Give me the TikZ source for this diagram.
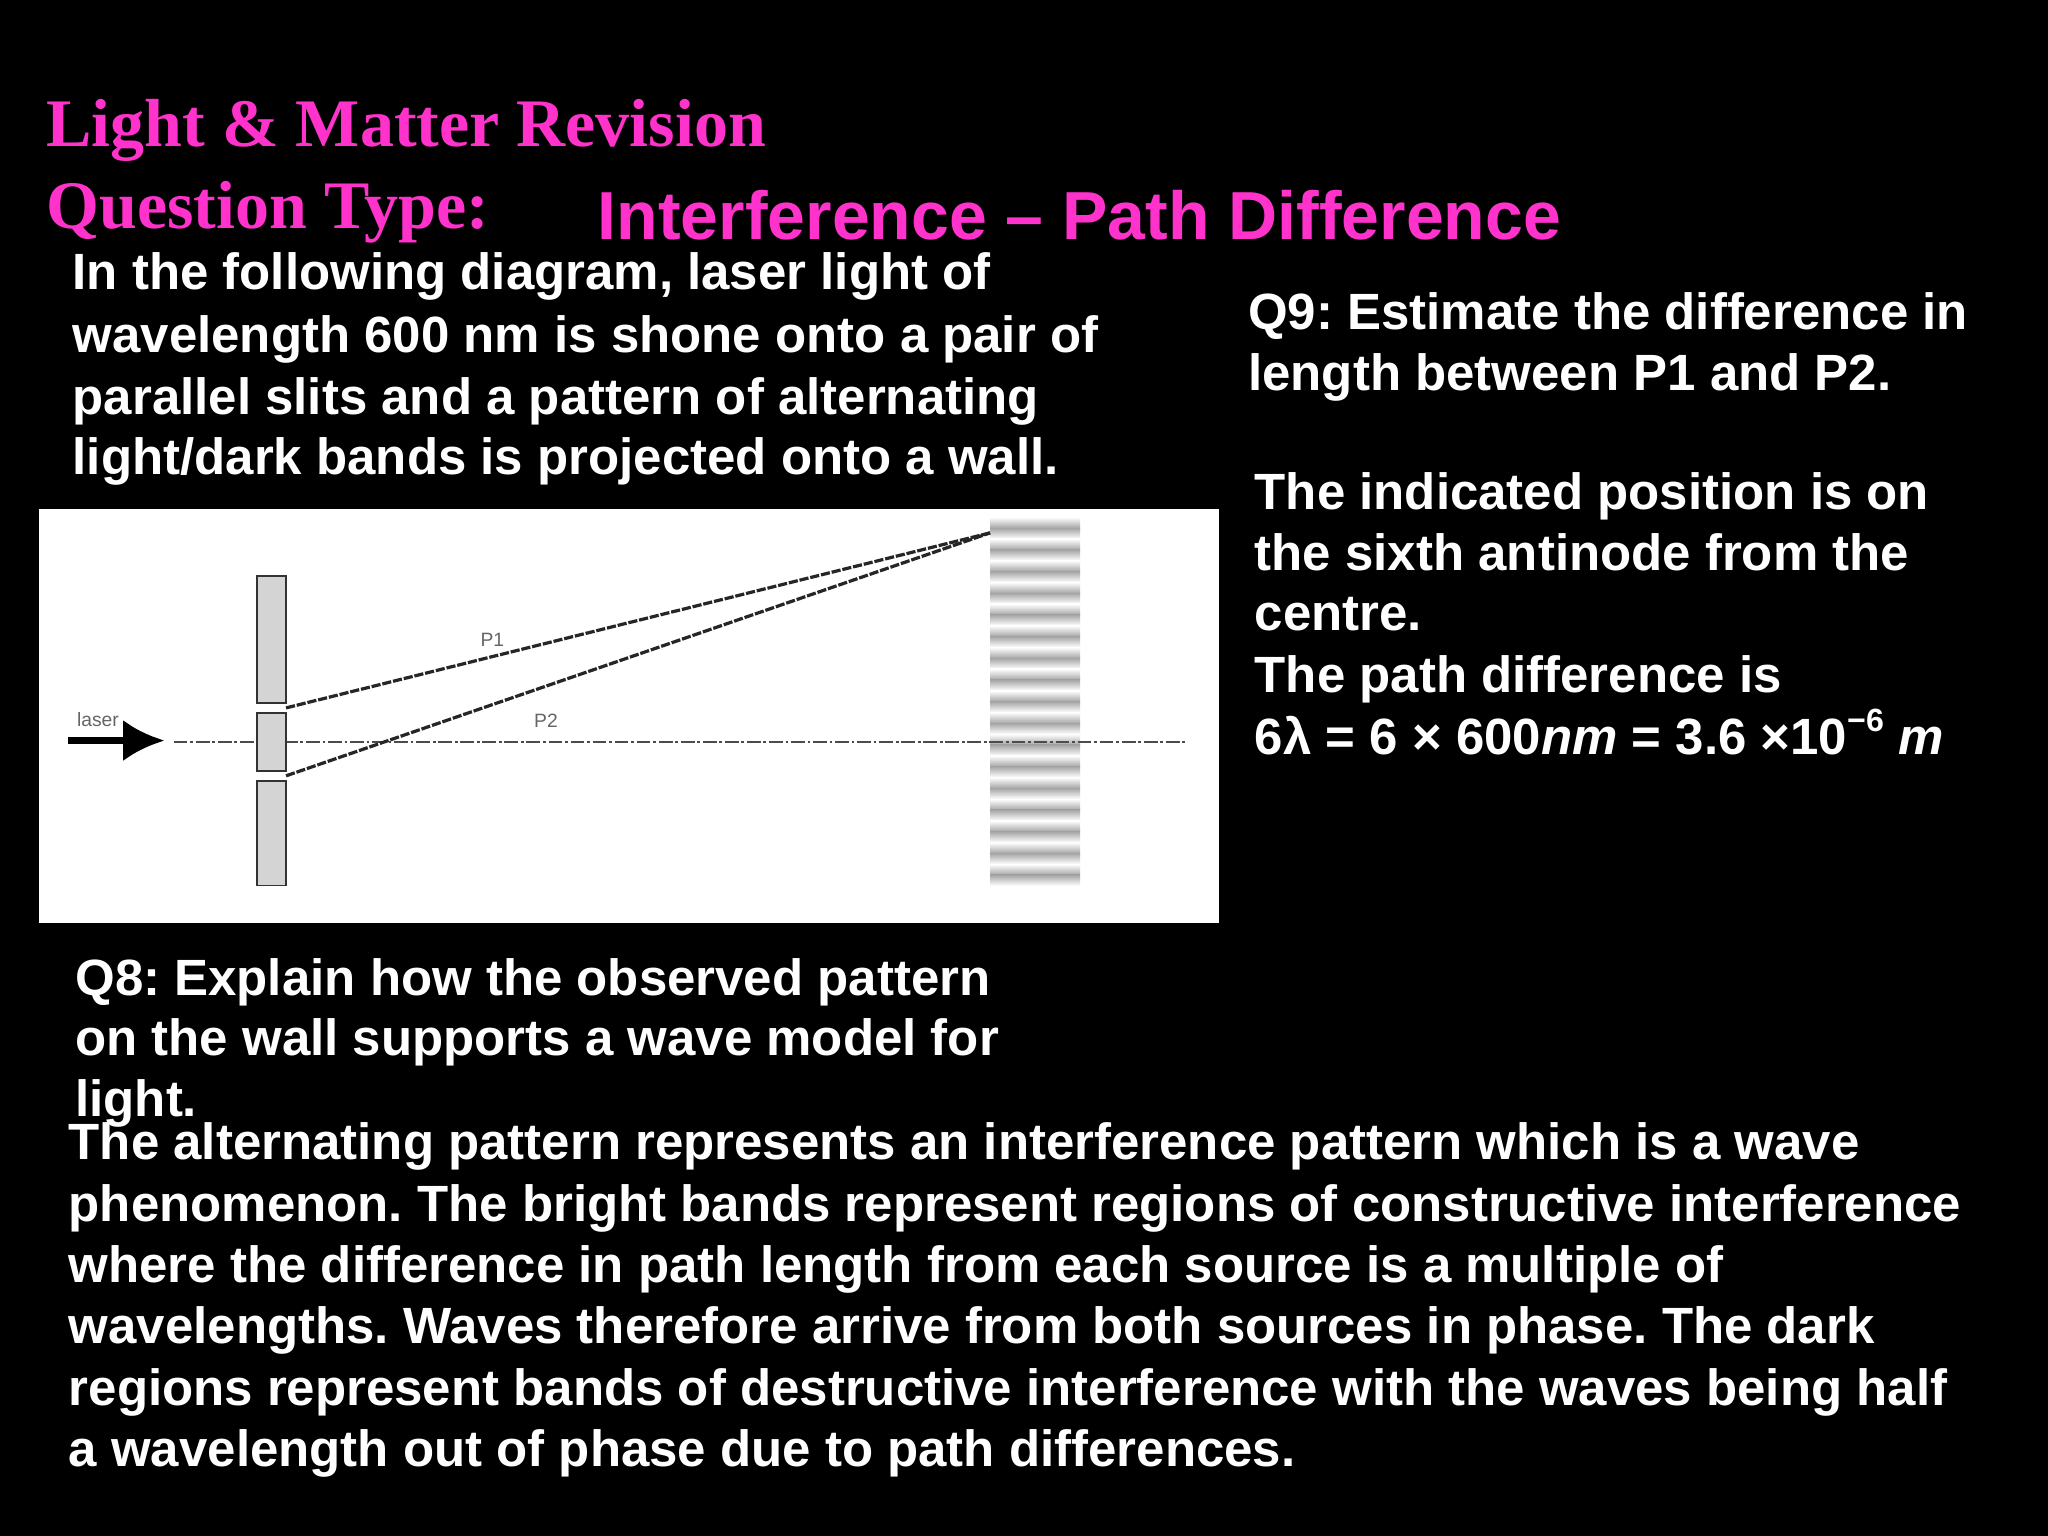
\documentclass[tikz,border=0pt]{standalone}
\usepackage{fontspec}
\usetikzlibrary{arrows.meta}
\setmainfont{Liberation Sans}
\newfontfamily\serifb{Liberation Serif}
\frenchspacing
\begin{document}
\begin{tikzpicture}[x=0.01cm,y=-0.01cm,
  body/.style={anchor=base west,inner sep=0,text=white,font=\fontsize{11.1}{12}\selectfont\bfseries\frenchspacing},
  ttl/.style={anchor=base west,inner sep=0,text=mag,font=\fontsize{14.8}{15}\serifb\bfseries},
  hd/.style={anchor=base west,inner sep=0,text=mag,font=\fontsize{14.8}{15}\selectfont\bfseries},
  ray/.style={black!85,line width=0.7pt,dash pattern=on 2pt off 0.4pt},
  plate/.style={fill=black!17,draw=black!80,line width=0.4pt},
  small/.style={inner sep=0,text=black!60,font=\fontsize{4.2}{5}\selectfont}]
\definecolor{mag}{HTML}{FF33CC}
\fill[black] (0,0) rectangle (1568,1176);
\useasboundingbox (0,0) rectangle (1568,1176);
\node[ttl] (t1) at (35,112) {Light \& Matter Revision};
\node[ttl] (t2) at (35,175) {Question Type:};
\node[hd] (t3) at (457,183) {Interference – Path Difference};
\foreach \y/\s in {222/{In the following diagram, laser light of},270/{wavelength 600 nm is shone onto a pair of},317/{parallel slits and a pattern of alternating},363/{light/dark bands is projected onto a wall.}}
  \node[body] at (55,\y) {\s};
\node[body] (q9a) at (955,252) {Q9: Estimate the difference in};
\node[body] (q9b) at (955,299) {length between P1 and P2.};
\foreach \y/\s in {390/{The indicated position is on},437/{the sixth antinode from the},483/{centre.},530/{The path difference is}}
  \node[body] at (960,\y) {\s};
\node[body] (ans) at (960,578) {6λ = 6 × 600\textit{nm} = 3.6 ×10\raisebox{0.45em}{\fontsize{7}{8}\selectfont−6} \textit{m}};
\foreach \y/\s in {762/{Q8: Explain how the observed pattern},808/{on the wall supports a wave model for},855/{light.}}
  \node[body] at (57,\y) {\s};
\foreach \y/\s in {888/{The alternating pattern represents an interference pattern which is a wave},935/{phenomenon. The bright bands represent regions of constructive interference},982/{where the difference in path length from each source is a multiple of},1029/{wavelengths. Waves therefore arrive from both sources in phase. The dark},1076/{regions represent bands of destructive interference with the waves being half},1123/{a wavelength out of phase due to path differences.}}
  \node[body] at (52,\y) {\s};
% diagram
\fill[white] (30,390) rectangle (933,707);
\foreach \i in {0,...,16}{
  \shade[top color=white,bottom color=black!35,shading angle=0]
     (758,{396+\i*16.6}) rectangle (827,{396+\i*16.6+8.3});
  \shade[top color=black!35,bottom color=white,shading angle=0]
     (758,{396+\i*16.6+8.3}) rectangle (827,{396+(\i+1)*16.6});
}
\draw[black!70,dash pattern=on 3pt off 0.6pt on 0.6pt off 0.6pt,line width=0.4pt] (133,568) -- (908,568);
\draw[plate] (197,441) rectangle (219,538);
\draw[plate] (197,546) rectangle (219,590);
\draw[plate] (197,598) rectangle (219,678);
\coordinate (s1) at (219,542);
\coordinate (s2) at (219,594);
\coordinate (pt) at (758,408);
\draw[ray] (s1) -- (pt);
\draw[ray] (s2) -- (pt);
\node[small] (p1) at (377,490) {P1};
\node[small] (p2) at (418,552) {P2};
\node[small] (lz) at (75,551) {laser};
\coordinate (la) at (52,567);
\coordinate (lb) at (126,567);
\draw[line width=1.6pt,-{Latex[length=9pt,width=9pt]}] (la) -- (lb);
\end{tikzpicture}
\end{document}
